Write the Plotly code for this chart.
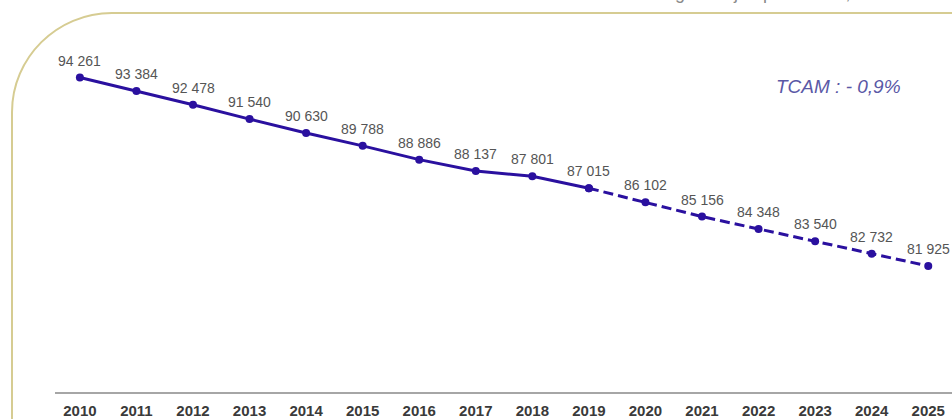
import plotly.graph_objects as go

years = list(range(2010, 2026))
values = [94261, 93384, 92478, 91540, 90630, 89788, 88886, 88137, 87801,
          87015, 86102, 85156, 84348, 83540, 82732, 81925]
labels = ["94 261", "93 384", "92 478", "91 540", "90 630", "89 788", "88 886",
          "88 137", "87 801", "87 015", "86 102", "85 156", "84 348", "83 540",
          "82 732", "81 925"]
split_year = 2019
tcam_text = "TCAM : - 0,9%"
top_text = "régulière jusqu'en 2025, à cette date"

LINE = "#2a109f"
W, H = 952, 419
ML, MR, MT, MB = 55, 0, 14, 24
PW, PH = W - ML - MR, H - MT - MB
BOT = H - MB

i = years.index(split_year)
fig = go.Figure()
fig.add_trace(go.Scatter(x=years[:i + 1], y=values[:i + 1], mode="lines+markers",
                         line=dict(color=LINE, width=3),
                         marker=dict(color=LINE, size=8), hoverinfo="skip"))
fig.add_trace(go.Scatter(x=years[i:], y=values[i:], mode="lines+markers",
                         line=dict(color=LINE, width=3, dash="10px,5px"),
                         marker=dict(color=LINE, size=8), hoverinfo="skip"))

for x, y, t in zip(years, values, labels):
    fig.add_annotation(x=x, y=y, text=t, showarrow=False, yshift=17,
                       xanchor="center", yanchor="middle",
                       font=dict(family="Liberation Sans", size=14, color="#555555"))

fig.add_annotation(xref="paper", yref="paper", x=(838 - ML) / PW, y=(BOT - 87) / PH,
                   xanchor="center", yanchor="middle",
                   text=tcam_text, showarrow=False,
                   font=dict(family="Liberation Sans", size=19, color="#5a58a6",
                             style="italic"))

fig.add_annotation(xref="paper", yref="paper", x=1.0, y=(BOT - 5) / PH,
                   xanchor="right", yanchor="bottom", text=top_text, showarrow=False,
                   font=dict(family="Liberation Sans", size=18, color="#8a8a8a"))

# decorative rounded frame
def px(xp):
    return (xp - ML) / PW

def py(yp):
    return (BOT - yp) / PH

path = (f"M {px(12)} {py(430)} L {px(12)} {py(113)} "
        f"C {px(12)} {py(58)} {px(57)} {py(13)} {px(112)} {py(13)} "
        f"L {px(960)} {py(13)}")
fig.add_shape(type="path", xref="paper", yref="paper", path=path,
              line=dict(color="#d6cc92", width=2))

fig.update_layout(
    width=W, height=H, margin=dict(l=ML, r=MR, t=MT, b=MB),
    paper_bgcolor="white", plot_bgcolor="white", showlegend=False,
    xaxis=dict(range=[2009.56, 2025.42], tickmode="array", tickvals=years,
               ticktext=[str(y) for y in years], showgrid=False, zeroline=False,
               showline=True, linecolor="#a6a6a6", linewidth=2,
               ticklabelstandoff=4,
               tickfont=dict(family="Liberation Sans", size=15, color="#3a3a3a",
                             weight="bold")),
    yaxis=dict(range=[73678, 98417], visible=False),
)

fig.write_html("out.html", config={"displayModeBar": False},
               post_script="document.body.style.margin='0';"
                           "document.body.style.overflow='hidden';")
